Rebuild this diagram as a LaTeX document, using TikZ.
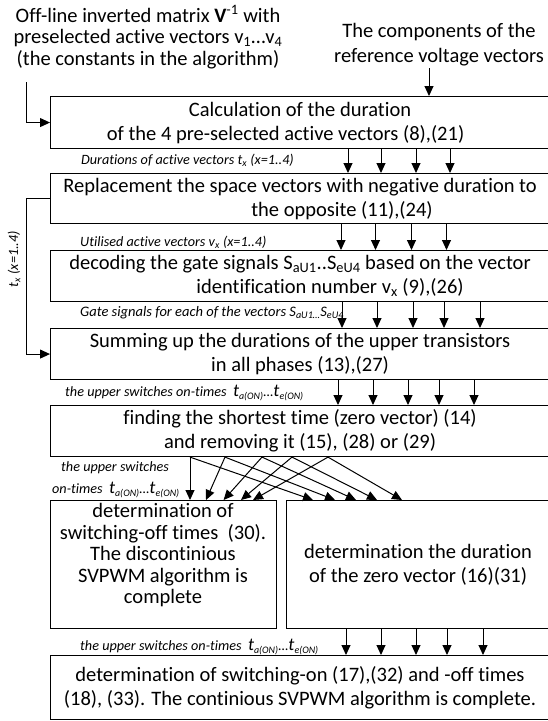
\documentclass[tikz,border=0pt]{standalone}
\usepackage{fontspec}
\setmainfont{Carlito}[Ligatures={TeX,CommonOff}]
\usetikzlibrary{arrows.meta}
\newcommand{\bigt}{{\fontsize{18}{18}\selectfont t}}
\begin{document}
\begin{tikzpicture}[x=1pt,y=-1pt,
  box/.style={draw, line width=1.1pt, inner sep=0pt, align=center, font=\fontsize{20.5}{24}\selectfont},
  arr/.style={line width=1pt, -{Triangle[length=10pt,width=9pt]}},
  lab/.style={anchor=west, inner sep=0pt, font=\fontsize{14.2}{15}\selectfont\itshape},
  txt/.style={align=center, inner sep=0pt, font=\fontsize{20.5}{21.5}\selectfont}]
\useasboundingbox[fill=white] (0,0) rectangle (548,721);
% top texts
\node[txt] (tl) at (148,37) {Off-line inverted matrix \textbf{V}\textsuperscript{-1} with\\preselected active vectors v\textsubscript{1}…v\textsubscript{4}\\(the constants in the algorithm)};
\node[txt, font=\fontsize{20.5}{25}\selectfont] (tr) at (439,44.5) {The components of the\\reference voltage vectors};
\coordinate (c1) at (26,82);
\coordinate (c2) at (429,68);
% boxes
\node[box, anchor=north west, minimum width=499, minimum height=52] (b1) at (50,96)
  {Calculation of the duration\\\hspace*{-29pt}of the 4 pre-selected active vectors (8),(21)};
\node[box, anchor=north west, minimum width=499, minimum height=50] (b2) at (50,173)
  {Replacement the space vectors with negative duration to\\\hspace*{84pt}the opposite (11),(24)};
\node[box, anchor=north west, minimum width=499, minimum height=51] (b3) at (50,250)
  {decoding the gate signals S\textsubscript{aU1}..S\textsubscript{eU4} based on the vector\\\hspace*{60pt}identification number v\textsubscript{x} (9),(26)};
\node[box, anchor=north west, minimum width=499, minimum height=51] (b4) at (50,328)
  {Summing up the durations of the upper transistors\\in all phases (13),(27)};
\node[box, anchor=north west, minimum width=499, minimum height=51] (b5) at (50,405)
  {finding the shortest time (zero vector) (14)\\and removing it (15), (28) or (29)};
\node[box, anchor=north west, minimum width=226, minimum height=128] (b6) at (50,500) {};
\node[txt] (t6) at (163,555.5) {determination of\\switching-off times~ (30).\\The discontinious\\SVPWM algorithm is\\complete};
\node[box, anchor=north west, minimum width=263, minimum height=128] (b7) at (286,500)
  {determination the duration\\of the zero vector (16)(31)};
\node[box, anchor=north west, minimum width=499, minimum height=64] (b8) at (50,655)
  {determination of switching-on (17),(32) and -off times\\(18), (33). The continious SVPWM algorithm is complete.};
% labels
\node[lab] (l1) at (81,160) {Durations of active vectors t\textsubscript{x} (x=1..4)};
\node[lab] (l2) at (80,242) {Utilised active vectors v\textsubscript{x} (x=1..4)};
\node[lab, font=\fontsize{14.5}{16}\selectfont\itshape] (l3) at (80,313) {Gate signals for each of the vectors S\textsubscript{aU1…}S\textsubscript{eU4}};
\node[lab] (l4) at (65,393) {the upper switches on-times~ \bigt\textsubscript{a(ON)}…\bigt\textsubscript{e(ON)}};
\node[lab] (l5) at (61,468) {the upper switches};
\node[lab] (l6) at (52,490) {on-times~ \bigt\textsubscript{a(ON)}…\bigt\textsubscript{e(ON)}};
\node[lab] (l7) at (80,647) {the upper switches on-times~ \bigt\textsubscript{a(ON)}…\bigt\textsubscript{e(ON)}};
\node[lab, anchor=center, rotate=90] (l8) at (14,259) {t\textsubscript{x} (x=1..4)};
% connectors
\draw[arr] (c1) |- (b1.west);
\draw[arr] (c2) -- (b1.north -| c2);
\draw[arr] (b2.west) -- ++(-24,0) |- (b4.west);
\foreach \o in {298,331,366,400}
  \draw[arr] ([xshift=\o*1pt]b1.south west) -- ([xshift=\o*1pt]b2.north west);
\foreach \o in {291,325.5,361.5,396.5}
  \draw[arr] ([xshift=\o*1pt]b2.south west) -- ([xshift=\o*1pt]b3.north west);
\foreach \o in {292,327,363,394,430}
  \draw[arr] ([xshift=\o*1pt]b3.south west) -- ([xshift=\o*1pt]b4.north west);
\foreach \o in {288,323,358,389,424}
  \draw[arr] ([xshift=\o*1pt]b4.south west) -- ([xshift=\o*1pt]b5.north west);
\foreach \o in {60,95,130,161,197}
  \draw[arr] ([xshift=\o*1pt]b7.south west) -- ([xshift=\o*1pt+236pt]b8.north west);
\foreach \s/\l/\r in {140/140/27, 175/156/49, 212/173.6/70, 242/191/91, 278/203/116} {
  \draw[arr] ([xshift=\s*1pt]b5.south west) -- ([xshift=\l*1pt]b6.north west);
  \draw[arr] ([xshift=\s*1pt]b5.south west) -- ([xshift=\r*1pt]b7.north west);
}
\end{tikzpicture}
\end{document}
